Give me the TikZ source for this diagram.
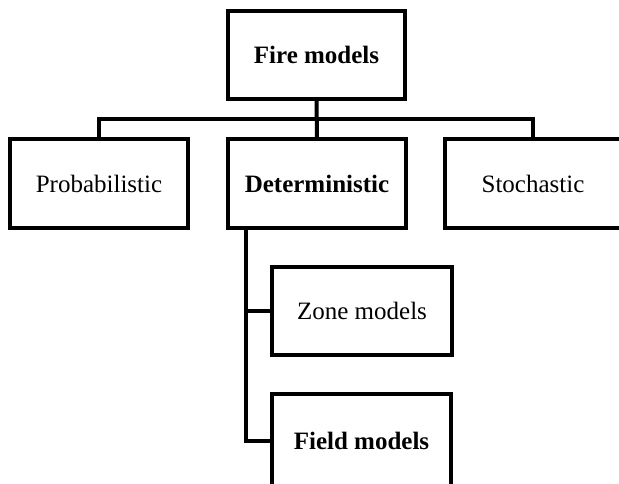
\documentclass[tikz,border=0pt]{standalone}
\usepackage{fontspec}
\setmainfont{Liberation Serif}
\begin{document}
\begin{tikzpicture}[x=1pt,y=-1pt,
  box/.style={draw=black, line width=4pt, line join=miter, rectangle, inner sep=0pt, outer sep=0pt, font=\fontsize{25}{30}\selectfont},
  conn/.style={draw=black, line width=4pt, line join=miter},
  txt/.style={inner sep=0pt, font=\fontsize{25}{30}\selectfont}]
\useasboundingbox (0,0) rectangle (619,483);
\clip (0,0) rectangle (619,483);
\node[box, minimum width=177pt, minimum height=88pt] (fire) at (316.5,55) {\bfseries Fire models};
\node[box, minimum width=178pt, minimum height=89pt] (prob) at (99,183.5) {Probabilistic};
\node[box, minimum width=178pt, minimum height=89pt] (det) at (317,183.5) {\bfseries Deterministic};
\node[box, minimum width=200pt, minimum height=89pt] (stoch) at (545,183.5) {};
\node[txt] (stochtxt) at (533,183.5) {Stochastic};
\node[box, minimum width=180pt, minimum height=88pt] (zone) at (362,311) {Zone models};
\node[box, minimum width=179pt, minimum height=94pt] (field) at (361.5,441) {\bfseries Field models};
\coordinate (bus) at (0,119);
\coordinate (tr) at (246,0);
\draw[conn] (fire.south) -- (det.north);
\draw[conn] (prob.north) |- (bus -| stochtxt) -- (stochtxt |- stoch.north);
\draw[conn] (det.south -| tr) |- (field.west);
\draw[conn] (zone.west) -- (zone.west -| tr);
\end{tikzpicture}
\end{document}
